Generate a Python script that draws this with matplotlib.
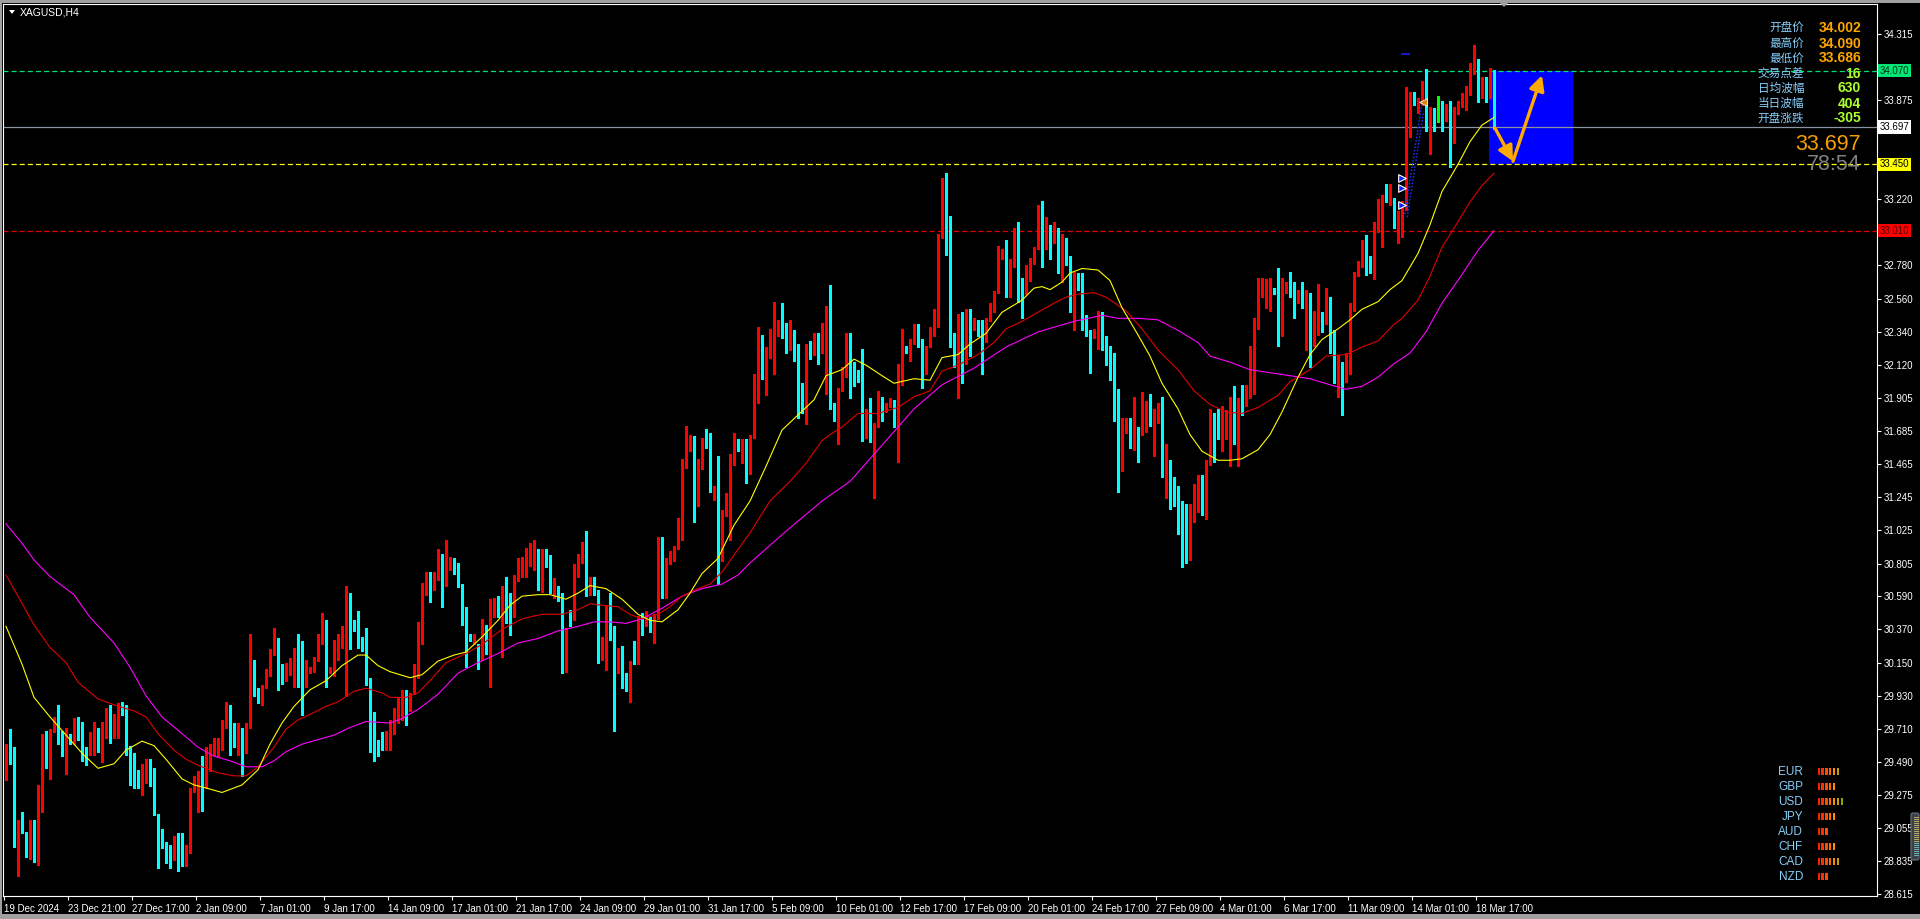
import numpy as np
import matplotlib
matplotlib.use("Agg")
import matplotlib.pyplot as plt
from matplotlib.patches import Rectangle, Polygon, FancyBboxPatch

plt.rcParams['font.family'] = ['Liberation Sans', 'DejaVu Sans']

# XAGUSD H4 candles (bar 0 = 19 Dec 2024)
opens = [
    29.50, 29.57, 29.54, 28.95, 29.07, 29.01, 28.93, 29.10, 28.83, 29.17,
    29.61, 29.39, 29.70, 29.77, 29.64, 29.54, 29.68, 29.62, 29.72, 29.69,
    29.55, 29.54, 29.55, 29.67, 29.56, 29.72, 29.80, 29.68, 29.68, 29.87,
    29.82, 29.59, 29.50, 29.42, 29.29, 29.37, 29.43, 29.38, 29.15, 28.99,
    28.94, 28.91, 28.86, 28.96, 28.93, 28.81, 28.90, 29.31, 29.39, 29.39,
    29.37, 29.44, 29.57, 29.60, 29.60, 29.74, 29.80, 29.67, 29.62, 29.71,
    29.56, 29.74, 29.96, 29.96, 29.93, 29.99, 30.07, 30.21, 30.30, 30.08,
    30.04, 30.10, 30.12, 30.22, 30.15, 29.99, 30.08, 30.10, 30.16, 30.28,
    30.36, 30.09, 30.06, 30.25, 30.27, 30.37, 30.50, 30.41, 30.40, 30.31,
    30.27, 30.02, 29.81, 29.62, 29.62, 29.59, 29.68, 29.69, 29.81, 29.85,
    29.91, 29.84, 29.94, 30.06, 30.28, 30.60, 30.65, 30.63, 30.73, 30.77,
    30.73, 30.77, 30.79, 30.75, 30.66, 30.52, 30.33, 30.30, 30.24, 30.18,
    30.38, 30.22, 30.46, 30.55, 30.47, 30.64, 30.56, 30.47, 30.70, 30.82,
    30.81, 30.82, 30.82, 30.87, 30.63, 30.89, 30.80, 30.63, 30.64, 30.59,
    30.23, 30.46, 30.44, 30.79, 30.82, 30.89, 30.60, 30.70, 30.39, 30.23,
    30.28, 30.49, 30.37, 30.09, 30.21, 30.03, 29.97, 30.16, 30.15, 30.44,
    30.40, 30.43, 30.36, 30.45, 30.94, 30.71, 30.83, 30.83, 30.91, 31.05,
    31.45, 31.56, 31.62, 31.19, 31.43, 31.59, 31.58, 31.29, 31.44, 30.83,
    31.12, 31.21, 31.47, 31.58, 31.55, 31.60, 31.48, 31.65, 32.05, 32.29,
    32.05, 32.18, 32.24, 32.31, 32.37, 32.35, 32.23, 32.29, 32.20, 31.94,
    31.81, 32.23, 32.20, 32.29, 32.20, 32.28, 32.41, 31.85, 31.69, 31.96,
    32.04, 32.30, 32.10, 32.05, 32.03, 31.80, 31.82, 31.67, 31.73, 31.89,
    31.81, 31.85, 31.88, 31.73, 32.00, 32.24, 32.20, 32.27, 32.33, 32.28,
    32.07, 32.24, 32.31, 32.48, 32.97, 33.31, 33.10, 32.31, 32.13, 32.39,
    32.15, 32.42, 32.37, 32.42, 32.40, 32.29, 32.41, 32.48, 32.61, 32.84,
    32.78, 32.61, 32.78, 33.01, 32.61, 32.60, 32.70, 32.79, 32.90, 33.16,
    32.92, 33.05, 32.93, 33.02, 32.90, 32.95, 32.84, 32.49, 32.71, 32.63,
    32.44, 32.33, 32.31, 32.35, 32.45, 32.28, 32.20, 32.14, 31.93, 31.56,
    31.69, 31.76, 31.56, 31.71, 31.67, 31.80, 31.92, 31.74, 31.76, 31.83,
    31.24, 31.48, 31.32, 31.31, 31.21, 31.14, 30.96, 31.13, 31.24, 31.32,
    31.25, 31.47, 31.74, 31.81, 31.56, 31.69, 31.62, 31.81, 31.62, 31.97,
    31.87, 31.92, 32.21, 32.37, 32.60, 32.61, 32.61, 32.63, 32.62, 32.32,
    32.62, 32.67, 32.60, 32.53, 32.57, 32.53, 32.53, 32.33, 32.33, 32.46,
    32.40, 32.57, 32.34, 32.01, 32.09, 32.05, 32.07, 32.49, 32.73, 32.78,
    32.97, 32.79, 32.79, 33.00, 33.03, 33.25, 33.23, 33.22, 33.06, 33.12,
    33.16, 33.64, 33.92, 33.85, 33.86, 33.97, 33.65, 33.78, 33.855, 33.84,
    33.79, 33.82, 33.60, 33.79, 33.84, 33.84, 33.92, 34.07, 34.10, 33.95,
    34.00, 33.90, 34.065,
]
highs = [
    29.61, 29.71, 29.59, 29.11, 29.16, 29.03, 29.11, 29.11, 29.34, 29.68,
    29.70, 29.71, 29.79, 29.87, 29.70, 29.72, 29.68, 29.78, 29.79, 29.76,
    29.59, 29.69, 29.76, 29.72, 29.76, 29.85, 29.87, 29.81, 29.88, 29.89,
    29.87, 29.60, 29.55, 29.44, 29.48, 29.51, 29.51, 29.45, 29.15, 29.05,
    28.96, 28.94, 29.00, 29.02, 29.02, 28.94, 29.32, 29.40, 29.43, 29.53,
    29.59, 29.61, 29.65, 29.65, 29.77, 29.89, 29.87, 29.75, 29.75, 29.72,
    29.75, 30.34, 30.17, 29.98, 30.00, 30.11, 30.24, 30.38, 30.31, 30.14,
    30.15, 30.18, 30.25, 30.34, 30.29, 30.17, 30.12, 30.19, 30.34, 30.48,
    30.43, 30.12, 30.30, 30.34, 30.39, 30.66, 30.61, 30.43, 30.49, 30.32,
    30.38, 30.05, 29.82, 29.64, 29.69, 29.70, 29.77, 29.85, 29.92, 29.97,
    29.97, 29.95, 30.14, 30.42, 30.68, 30.75, 30.75, 30.75, 30.90, 30.87,
    30.96, 30.85, 30.84, 30.81, 30.67, 30.52, 30.34, 30.34, 30.27, 30.44,
    30.40, 30.57, 30.58, 30.59, 30.66, 30.72, 30.61, 30.73, 30.84, 30.85,
    30.91, 30.94, 30.96, 30.90, 30.90, 30.90, 30.86, 30.71, 30.66, 30.61,
    30.38, 30.50, 30.80, 30.87, 30.95, 31.02, 30.72, 30.72, 30.63, 30.32,
    30.53, 30.61, 30.39, 30.25, 30.26, 30.08, 30.16, 30.29, 30.46, 30.48,
    30.49, 30.45, 30.47, 30.98, 30.98, 30.84, 30.89, 30.92, 31.11, 31.50,
    31.72, 31.66, 31.65, 31.50, 31.64, 31.70, 31.67, 31.32, 31.52, 31.16,
    31.27, 31.53, 31.67, 31.63, 31.63, 31.63, 31.66, 32.06, 32.37, 32.32,
    32.24, 32.36, 32.54, 32.42, 32.53, 32.40, 32.42, 32.35, 32.26, 32.00,
    32.26, 32.28, 32.33, 32.33, 32.40, 32.51, 32.65, 31.87, 31.97, 32.11,
    32.33, 32.33, 32.14, 32.09, 32.23, 31.83, 31.90, 31.74, 31.95, 31.91,
    31.87, 31.90, 31.89, 32.13, 32.36, 32.25, 32.29, 32.39, 32.39, 32.29,
    32.25, 32.37, 32.49, 32.99, 33.36, 33.39, 33.11, 32.33, 32.46, 32.47,
    32.49, 32.49, 32.43, 32.42, 32.42, 32.43, 32.53, 32.61, 32.91, 32.89,
    32.95, 32.82, 33.03, 33.07, 32.70, 32.78, 32.83, 32.90, 33.18, 33.21,
    33.10, 33.05, 33.07, 33.03, 32.99, 32.96, 32.84, 32.74, 32.73, 32.73,
    32.45, 32.35, 32.36, 32.48, 32.47, 32.31, 32.25, 32.20, 31.96, 31.77,
    31.77, 31.77, 31.91, 31.71, 31.94, 31.88, 31.93, 31.83, 31.87, 31.91,
    31.60, 31.49, 31.38, 31.32, 31.22, 31.20, 31.20, 31.33, 31.39, 31.39,
    31.49, 31.83, 31.80, 31.83, 31.85, 31.82, 31.91, 31.98, 31.90, 31.99,
    31.99, 32.25, 32.43, 32.70, 32.70, 32.69, 32.70, 32.63, 32.76, 32.70,
    32.67, 32.74, 32.67, 32.62, 32.67, 32.62, 32.60, 32.48, 32.66, 32.47,
    32.63, 32.57, 32.35, 32.19, 32.14, 32.20, 32.53, 32.74, 32.81, 32.95,
    32.98, 32.84, 33.07, 33.22, 33.25, 33.32, 33.32, 33.23, 33.14, 33.21,
    33.96, 33.93, 33.93, 33.89, 34.00, 34.08, 33.83, 33.82, 33.90, 33.87,
    33.85, 33.87, 33.83, 33.87, 33.92, 33.97, 34.12, 34.24, 34.15, 34.03,
    34.03, 34.09, 34.075,
]
lows = [
    29.37, 29.48, 28.93, 28.74, 29.02, 28.86, 28.85, 28.83, 28.81, 29.16,
    29.45, 29.38, 29.69, 29.61, 29.53, 29.41, 29.61, 29.61, 29.64, 29.50,
    29.47, 29.54, 29.54, 29.56, 29.49, 29.65, 29.62, 29.65, 29.65, 29.80,
    29.54, 29.34, 29.32, 29.32, 29.27, 29.35, 29.33, 29.14, 28.79, 28.92,
    28.82, 28.79, 28.84, 28.77, 28.80, 28.80, 28.89, 29.29, 29.16, 29.17,
    29.32, 29.43, 29.54, 29.53, 29.57, 29.72, 29.54, 29.59, 29.54, 29.40,
    29.55, 29.72, 29.93, 29.88, 29.87, 29.98, 30.06, 30.20, 29.97, 30.01,
    30.03, 30.07, 29.99, 29.99, 29.80, 29.99, 30.08, 30.09, 30.16, 30.27,
    29.99, 30.08, 30.06, 30.17, 30.25, 29.93, 30.24, 30.36, 30.25, 30.23,
    30.00, 29.56, 29.50, 29.53, 29.57, 29.57, 29.57, 29.68, 29.75, 29.77,
    29.74, 29.83, 29.94, 30.05, 30.27, 30.60, 30.55, 30.63, 30.70, 30.52,
    30.66, 30.76, 30.74, 30.65, 30.40, 30.12, 30.29, 30.27, 30.11, 30.17,
    30.21, 29.99, 30.45, 30.45, 30.19, 30.41, 30.33, 30.45, 30.69, 30.72,
    30.72, 30.79, 30.76, 30.63, 30.62, 30.78, 30.61, 30.58, 30.56, 30.08,
    30.09, 30.39, 30.43, 30.72, 30.81, 30.59, 30.60, 30.60, 30.15, 30.17,
    30.10, 30.30, 29.70, 30.08, 29.98, 29.96, 29.89, 30.14, 30.14, 30.33,
    30.39, 30.35, 30.28, 30.44, 30.58, 30.58, 30.80, 30.82, 30.90, 30.96,
    31.44, 31.55, 31.08, 31.19, 31.43, 31.57, 31.28, 31.23, 30.67, 30.82,
    31.12, 30.96, 31.46, 31.55, 31.47, 31.34, 31.40, 31.64, 31.87, 32.03,
    31.92, 32.17, 32.06, 32.31, 32.30, 32.20, 32.22, 32.15, 31.77, 31.80,
    31.73, 32.16, 32.19, 32.13, 32.20, 31.93, 31.83, 31.75, 31.60, 31.95,
    32.04, 31.90, 31.98, 32.01, 31.62, 31.64, 31.61, 31.24, 31.71, 31.75,
    31.81, 31.84, 31.71, 31.48, 31.99, 32.20, 32.15, 32.26, 32.24, 31.97,
    32.06, 32.24, 32.31, 32.37, 32.96, 32.85, 32.24, 32.11, 31.90, 32.00,
    32.13, 32.18, 32.35, 32.31, 32.06, 32.27, 32.41, 32.47, 32.60, 32.82,
    32.57, 32.57, 32.77, 32.54, 32.43, 32.59, 32.68, 32.79, 32.89, 32.77,
    32.89, 32.82, 32.93, 32.73, 32.67, 32.78, 32.47, 32.35, 32.62, 32.35,
    32.31, 32.07, 32.30, 32.23, 32.22, 32.12, 32.02, 31.75, 31.28, 31.42,
    31.67, 31.57, 31.56, 31.48, 31.66, 31.68, 31.72, 31.52, 31.74, 31.38,
    31.24, 31.17, 31.19, 31.00, 30.78, 30.81, 30.83, 31.08, 31.15, 31.13,
    31.10, 31.46, 31.48, 31.63, 31.55, 31.63, 31.45, 31.60, 31.45, 31.79,
    31.85, 31.90, 31.93, 32.36, 32.57, 32.50, 32.48, 32.59, 32.25, 32.31,
    32.60, 32.57, 32.43, 32.53, 32.50, 32.22, 32.11, 32.25, 32.32, 32.34,
    32.39, 32.20, 32.00, 31.91, 31.79, 32.01, 32.06, 32.48, 32.71, 32.77,
    32.72, 32.73, 32.69, 33.00, 32.90, 33.20, 33.18, 33.03, 32.93, 32.97,
    33.15, 33.63, 33.84, 33.79, 33.84, 33.67, 33.52, 33.67, 33.73, 33.67,
    33.74, 33.43, 33.59, 33.78, 33.83, 33.81, 33.91, 34.05, 33.86, 33.89,
    33.86, 33.89, 33.686,
]
closes = [
    29.58, 29.54, 28.94, 29.08, 29.03, 28.93, 29.08, 28.84, 29.18, 29.61,
    29.51, 29.70, 29.76, 29.62, 29.56, 29.67, 29.62, 29.72, 29.68, 29.54,
    29.54, 29.63, 29.67, 29.56, 29.72, 29.80, 29.68, 29.78, 29.87, 29.81,
    29.59, 29.50, 29.42, 29.37, 29.38, 29.43, 29.38, 29.15, 28.97, 28.96,
    28.90, 28.87, 28.96, 28.93, 28.81, 28.90, 29.31, 29.39, 29.40, 29.37,
    29.44, 29.57, 29.60, 29.61, 29.74, 29.82, 29.67, 29.62, 29.71, 29.56,
    29.74, 29.96, 29.94, 29.93, 29.99, 30.07, 30.21, 30.30, 30.08, 30.04,
    30.11, 30.12, 30.21, 30.14, 29.99, 30.10, 30.10, 30.17, 30.29, 30.36,
    30.08, 30.11, 30.25, 30.27, 30.37, 30.50, 30.41, 30.37, 30.31, 30.26,
    30.02, 29.80, 29.62, 29.60, 29.59, 29.68, 29.69, 29.81, 29.86, 29.89,
    29.84, 29.94, 30.06, 30.28, 30.60, 30.64, 30.63, 30.74, 30.77, 30.73,
    30.77, 30.80, 30.75, 30.66, 30.52, 30.33, 30.30, 30.33, 30.18, 30.38,
    30.22, 30.47, 30.55, 30.47, 30.65, 30.55, 30.47, 30.70, 30.83, 30.83,
    30.82, 30.83, 30.87, 30.63, 30.89, 30.80, 30.63, 30.64, 30.59, 30.23,
    30.37, 30.43, 30.79, 30.82, 30.89, 30.60, 30.70, 30.60, 30.22, 30.27,
    30.49, 30.36, 30.09, 30.20, 30.03, 29.97, 30.16, 30.15, 30.43, 30.40,
    30.43, 30.36, 30.45, 30.94, 30.71, 30.83, 30.84, 30.91, 31.05, 31.45,
    31.57, 31.62, 31.19, 31.43, 31.59, 31.58, 31.29, 31.30, 30.83, 31.12,
    31.21, 31.47, 31.57, 31.56, 31.61, 31.48, 31.65, 32.05, 32.29, 32.11,
    32.19, 32.24, 32.31, 32.37, 32.35, 32.29, 32.30, 32.16, 31.94, 31.81,
    32.23, 32.19, 32.28, 32.20, 32.29, 32.41, 31.85, 31.77, 31.96, 32.05,
    32.30, 32.06, 32.05, 32.02, 31.81, 31.82, 31.67, 31.73, 31.89, 31.80,
    31.86, 31.88, 31.73, 32.00, 32.23, 32.21, 32.27, 32.33, 32.28, 32.07,
    32.25, 32.30, 32.48, 32.97, 33.31, 33.09, 32.31, 32.13, 32.39, 32.15,
    32.42, 32.37, 32.42, 32.35, 32.29, 32.42, 32.48, 32.61, 32.85, 32.87,
    32.58, 32.78, 33.01, 32.61, 32.60, 32.69, 32.80, 32.90, 33.16, 32.91,
    33.05, 32.93, 33.02, 32.90, 32.94, 32.84, 32.49, 32.71, 32.63, 32.44,
    32.33, 32.31, 32.35, 32.45, 32.28, 32.20, 32.14, 31.93, 31.56, 31.72,
    31.76, 31.58, 31.71, 31.67, 31.80, 31.83, 31.74, 31.80, 31.83, 31.42,
    31.49, 31.24, 31.20, 31.13, 30.85, 30.85, 31.13, 31.32, 31.32, 31.24,
    31.47, 31.66, 31.62, 31.67, 31.82, 31.81, 31.82, 31.62, 31.82, 31.87,
    31.97, 32.21, 32.37, 32.60, 32.61, 32.62, 32.62, 32.61, 32.32, 32.67,
    32.67, 32.60, 32.53, 32.57, 32.53, 32.57, 32.35, 32.46, 32.46, 32.40,
    32.56, 32.34, 32.01, 32.09, 32.05, 32.08, 32.49, 32.73, 32.78, 32.93,
    32.79, 32.78, 33.01, 33.03, 33.23, 33.23, 33.26, 33.05, 33.12, 33.16,
    33.64, 33.87, 33.85, 33.86, 33.97, 33.68, 33.78, 33.74, 33.855, 33.80,
    33.82, 33.60, 33.80, 33.84, 33.85, 33.92, 34.07, 34.11, 33.99, 34.01,
    33.90, 34.06, 33.697,
]

# moving averages (bar index, value)
ma_fast_bars = [0, 4, 7, 11, 15, 19, 23, 27, 30, 34, 37, 40, 44, 47, 50, 54, 59, 63, 66, 69,
                72, 76, 80, 84, 88, 90, 93, 96, 101, 104, 108, 112, 115, 119, 123, 126, 129, 133, 136, 140,
                143, 146, 150, 154, 158, 161, 164, 168, 171, 174, 178, 182, 186, 190, 194, 198, 202, 205, 209, 212,
                215, 219, 222, 227, 231, 234, 238, 241, 245, 249, 254, 257, 259, 261, 264, 266, 269, 273, 276, 279,
                283, 286, 289, 293, 296, 299, 303, 306, 309, 313, 316, 319, 323, 326, 329, 333, 336, 339, 343, 346,
                349, 353, 356, 359, 363, 366, 369, 372]
ma_fast = [30.39, 30.14, 29.92, 29.79, 29.67, 29.55, 29.45, 29.48, 29.57, 29.63, 29.60, 29.51, 29.38, 29.34, 29.32, 29.29, 29.34, 29.44, 29.61, 29.75,
           29.86, 29.97, 30.03, 30.13, 30.20, 30.20, 30.13, 30.09, 30.05, 30.07, 30.16, 30.20, 30.22, 30.32, 30.43, 30.53, 30.59, 30.60, 30.60, 30.57,
           30.61, 30.66, 30.64, 30.57, 30.47, 30.43, 30.42, 30.50, 30.61, 30.74, 30.84, 31.06, 31.22, 31.45, 31.69, 31.79, 31.89, 32.05, 32.09, 32.16,
           32.12, 32.05, 32.00, 32.03, 32.02, 32.17, 32.19, 32.26, 32.33, 32.47, 32.55, 32.63, 32.64, 32.62, 32.67, 32.73, 32.76, 32.75, 32.68, 32.50,
           32.32, 32.18, 32.00, 31.83, 31.66, 31.55, 31.49, 31.49, 31.50, 31.56, 31.66, 31.81, 32.04, 32.19, 32.29, 32.36, 32.42, 32.49, 32.54, 32.62,
           32.68, 32.86, 33.05, 33.27, 33.45, 33.60, 33.71, 33.76]

ma_mid_bars = [0, 3, 7, 11, 15, 18, 23, 27, 32, 35, 38, 42, 45, 48, 53, 57, 60, 63, 67, 70,
               73, 77, 80, 83, 87, 90, 94, 96, 100, 103, 106, 110, 115, 119, 124, 129, 134, 139, 143, 146,
               149, 153, 156, 159, 163, 166, 169, 173, 176, 179, 183, 186, 191, 196, 200, 204, 206, 209, 213, 218,
               223, 227, 231, 234, 238, 243, 247, 250, 254, 258, 262, 265, 268, 272, 275, 280, 284, 288, 293, 297,
               301, 305, 309, 313, 318, 321, 326, 330, 335, 339, 343, 347, 349, 353, 356, 359, 363, 366, 369, 372]
ma_mid = [30.73, 30.59, 30.40, 30.25, 30.15, 30.02, 29.91, 29.87, 29.83, 29.79, 29.68, 29.57, 29.51, 29.47, 29.42, 29.40, 29.40, 29.46, 29.59, 29.71,
          29.77, 29.82, 29.86, 29.89, 29.96, 29.98, 29.95, 29.92, 29.92, 29.95, 30.03, 30.15, 30.21, 30.27, 30.37, 30.44, 30.47, 30.47, 30.50, 30.54,
          30.53, 30.52, 30.47, 30.44, 30.47, 30.52, 30.59, 30.64, 30.67, 30.75, 30.90, 31.01, 31.22, 31.35, 31.47, 31.62, 31.66, 31.71, 31.80, 31.80,
          31.84, 31.91, 31.95, 32.08, 32.12, 32.19, 32.27, 32.36, 32.41, 32.47, 32.53, 32.57, 32.59, 32.60, 32.57, 32.48, 32.36, 32.22, 32.09, 31.95,
          31.86, 31.81, 31.80, 31.84, 31.92, 32.01, 32.09, 32.18, 32.19, 32.24, 32.28, 32.39, 32.43, 32.55, 32.71, 32.90, 33.07, 33.20, 33.31, 33.39]

ma_slow_bars = [0, 4, 7, 11, 17, 21, 27, 31, 35, 39, 44, 48, 52, 56, 60, 64, 67, 70, 74, 78,
                82, 86, 90, 96, 99, 103, 108, 113, 118, 123, 128, 133, 138, 143, 147, 151, 155, 159, 164, 169,
                174, 179, 183, 186, 195, 204, 211, 217, 223, 227, 234, 242, 250, 258, 267, 274, 278, 283, 288, 293,
                298, 301, 306, 311, 316, 321, 326, 331, 335, 339, 343, 347, 351, 355, 359, 364, 368, 372]
ma_slow = [31.07, 30.94, 30.83, 30.72, 30.60, 30.45, 30.28, 30.12, 29.93, 29.79, 29.68, 29.59, 29.53, 29.50, 29.46, 29.46, 29.50, 29.56, 29.61, 29.64,
           29.67, 29.72, 29.76, 29.75, 29.78, 29.84, 29.94, 30.08, 30.15, 30.21, 30.28, 30.31, 30.36, 30.39, 30.42, 30.42, 30.41, 30.44, 30.51, 30.59,
           30.64, 30.67, 30.73, 30.81, 31.02, 31.22, 31.35, 31.53, 31.71, 31.83, 31.99, 32.10, 32.24, 32.34, 32.41, 32.45, 32.43, 32.43, 32.42, 32.35,
           32.27, 32.18, 32.14, 32.09, 32.07, 32.05, 32.03, 31.99, 31.96, 31.98, 32.04, 32.13, 32.20, 32.34, 32.53, 32.72, 32.88, 33.01]

date_labels = ["19 Dec 2024", "23 Dec 21:00", "27 Dec 17:00", "2 Jan 09:00", "7 Jan 01:00", "9 Jan 17:00",
               "14 Jan 09:00", "17 Jan 01:00", "21 Jan 17:00", "24 Jan 09:00", "29 Jan 01:00", "31 Jan 17:00",
               "5 Feb 09:00", "10 Feb 01:00", "12 Feb 17:00", "17 Feb 09:00", "20 Feb 01:00", "24 Feb 17:00",
               "27 Feb 09:00", "4 Mar 01:00", "6 Mar 17:00", "11 Mar 09:00", "14 Mar 01:00", "18 Mar 17:00"]
bars_per_label = 16
# price scale; the ones hidden behind the coloured level labels get a tick but no text
price_ticks = ["34.315", "34.095", "33.875", "33.655", "33.435", "33.220", "33.000", "32.780", "32.560",
               "32.340", "32.120", "31.905", "31.685", "31.465", "31.245", "31.025", "30.805", "30.590",
               "30.370", "30.150", "29.930", "29.710", "29.490", "29.275", "29.055", "28.835", "28.615"]
hidden_ticks = ["34.095", "33.655", "33.435", "33.000"]

# horizontal levels: (price, line colour, label bg, label text colour, style)
levels = [(34.070, '#00e676', '#00e676', '#003018', 'dash'),
          (33.697, '#8a949e', '#ffffff', '#000000', 'solid'),
          (33.450, '#ffff00', '#ffff00', '#000000', 'dash'),
          (33.010, '#e00000', '#ff0000', '#500000', 'dash')]

# projection box and arrows (bar index, price)
box_bars = (370.75, 391.75)
box_prices = (33.45, 34.07)
arrow_path = [(372.25, 33.69), (376.75, 33.47), (384.0, 34.04)]

info_names = ["开盘价", "最高价", "最低价", "交易点差", "日均波幅", "当日波幅", "开盘涨跌"]
info_values = ["34.002", "34.090", "33.686", "16", "630", "404", "-305"]
info_colors = ['#ffa500'] * 3 + ['#adff2f'] * 4
last_price = "33.697"
countdown = "78:54"

currencies = ['EUR', 'GBP', 'USD', 'JPY', 'AUD', 'CHF', 'CAD', 'NZD']
strength = [6, 5, 7, 5, 3, 5, 6, 3]
strength_colors = ['#ff2000', '#ff3000', '#ff4a00', '#ff6a00', '#ff8c00', '#c0a000', '#90a400']

n = len(closes)
assert len(opens) == n and len(highs) == n and len(lows) == n, (len(opens), len(highs), len(lows), n)

o = np.array(opens)
h = np.array(highs)
lo = np.array(lows)
c = np.array(closes)
xs = np.arange(n)
cols = np.where(c > o, '#ff0000', '#00ffff').astype(object)
cols[c == o] = '#00ff00'

W, H = 1920, 919
L, R, T, B = 3, 1877, 4, 896
fig = plt.figure(figsize=(W / 100, H / 100), dpi=100, facecolor='black')
ax = fig.add_axes([L / W, 1 - B / H, (R - L) / W, (B - T) / H], facecolor='black')
ax.set_xlim((L - 6) / 4, (R - 6) / 4)
ax.set_ylim(28.6044, 34.5116)

# blue projection box
ax.add_patch(Rectangle((box_bars[0], box_prices[0]), box_bars[1] - box_bars[0],
                       box_prices[1] - box_prices[0], fc='#0000ff', ec='none', zorder=1))

for price, lc, bg, tc, style in levels:
    ls = '-' if style == 'solid' else (0, (4, 2.5))
    ax.axhline(price, color=lc, lw=0.9, ls=ls, zorder=2)

# candles
ax.vlines(xs, lo, h, colors=list(cols), lw=0.75, zorder=3, antialiased=False)
body = np.maximum(np.abs(c - o), 0.007)
ax.bar(xs, body, bottom=np.minimum(o, c), width=0.75, color=list(cols), lw=0,
       zorder=3, antialiased=False)

ax.plot(ma_slow_bars, ma_slow, color='#ff00ff', lw=0.8, zorder=4)
ax.plot(ma_mid_bars, ma_mid, color='#e00000', lw=0.8, zorder=4)
ax.plot(ma_fast_bars, ma_fast, color='#ffff00', lw=0.8, zorder=4)

# signal markers near 11-13 Mar
ax.plot([349.7, 354.0], [33.12, 33.86], color='#2030ff', lw=1.0, ls=(0, (1.2, 1.2)), zorder=5)
ax.plot([350.3, 354.4], [33.10, 33.80], color='#2030ff', lw=1.0, ls=(0, (1.2, 1.2)), zorder=5)
ax.scatter([349.0, 349.0, 349.0], [33.36, 33.29, 33.18], marker='>', s=30,
           c='#1020ff', edgecolors='white', linewidths=0.8, zorder=6)
ax.scatter([354.3], [33.86], marker='<', s=30, c='#e08000', edgecolors='white',
           linewidths=0.6, zorder=6)
ax.plot([349.0, 350.8], [34.18, 34.18], color='#1020ff', lw=1.2, zorder=5)

# projection arrows
for (xa, ya), (xb, yb) in zip(arrow_path[:-1], arrow_path[1:]):
    ax.annotate('', xy=(xb, yb), xytext=(xa, ya), zorder=7,
                arrowprops=dict(arrowstyle='-|>,head_length=0.9,head_width=0.45',
                                color='#ffaa00', lw=2.4, shrinkA=0, shrinkB=0,
                                mutation_scale=10))

# axes styling
for s in ax.spines.values():
    s.set_color('white')
    s.set_linewidth(0.8)
ax.yaxis.tick_right()
ax.set_yticks([float(t) for t in price_ticks])
ax.set_yticklabels(['' if t in hidden_ticks else t for t in price_ticks])
ax.set_xticks([bars_per_label * k - 0.45 for k in range(len(date_labels))])
ax.set_xticklabels(date_labels)
for lab in ax.get_xticklabels():
    lab.set_ha('left')
ax.tick_params(axis='both', colors='white', labelcolor='white', length=3, width=0.8,
               labelsize=7, pad=2)
ax.tick_params(axis='x', pad=2.5)

for price, lc, bg, tc, style in levels:
    ax.text(1.0013, price, f"{price:.3f}", transform=ax.get_yaxis_transform(),
            ha='left', va='center', fontsize=7, color=tc, zorder=10, clip_on=False,
            bbox=dict(boxstyle='square,pad=0.18', fc=bg, ec='none'))

# overlay in pixel coordinates for panels and frame
ov = fig.add_axes([0, 0, 1, 1])
ov.set_xlim(0, W)
ov.set_ylim(H, 0)
ov.axis('off')
ov.patch.set_alpha(0)

ov.add_patch(Rectangle((0, 0), W, 3, color='#a0a0a0', lw=0))
ov.add_patch(Rectangle((0, 0), 2, H, color='#a0a0a0', lw=0))
ov.add_patch(Rectangle((0, 914), W, 5, color='#a0a0a0', lw=0))
ov.add_patch(Polygon([(1500, 3), (1508, 3), (1504, 7)], color='#a0a0a0', lw=0))

ov.add_patch(Polygon([(9, 10), (15, 10), (12, 14)], color='white', lw=0))
ov.text(20, 12.5, 'XAGUSD,H4', color='white', fontsize=7.5, va='center', ha='left')

cjk = ['Noto Sans CJK SC', 'DejaVu Sans']
for k, (name, val, vc) in enumerate(zip(info_names, info_values, info_colors)):
    y = 28.5 + 15 * k
    ov.text(1804, y, name, ha='right', va='center', fontsize=8.4, color='#87cefa', family=cjk)
    ov.text(1861, y, val, ha='right', va='center', fontsize=10, color=vc, fontweight='bold')

ov.text(1861, 145, last_price, ha='right', va='center', fontsize=15.5, color='#f5a000')
ov.text(1861, 165, countdown, ha='right', va='center', fontsize=15.5, color='#808080')

for k, (name, s) in enumerate(zip(currencies, strength)):
    y = 771.7 + 15 * k
    ov.text(1803, y, name, ha='right', va='center', fontsize=8.5, color='#87cefa')
    for j in range(s):
        ov.add_patch(Rectangle((1817.5 + 3.9 * j, y - 3.5), 2.2, 7, color=strength_colors[j], lw=0))

# small scroll widget on the right edge
ov.add_patch(FancyBboxPatch((1911, 813), 8, 47, boxstyle='round,pad=0,rounding_size=2',
                            fc='#3a3f48', ec='#6c727c', lw=0.8))
for yy in range(817, 857, 2):
    ov.plot([1914, 1918], [yy, yy], color='#d8c060' if yy < 842 else '#70c8c0', lw=0.6)

fig.savefig('out.png', dpi=100, facecolor='black')
